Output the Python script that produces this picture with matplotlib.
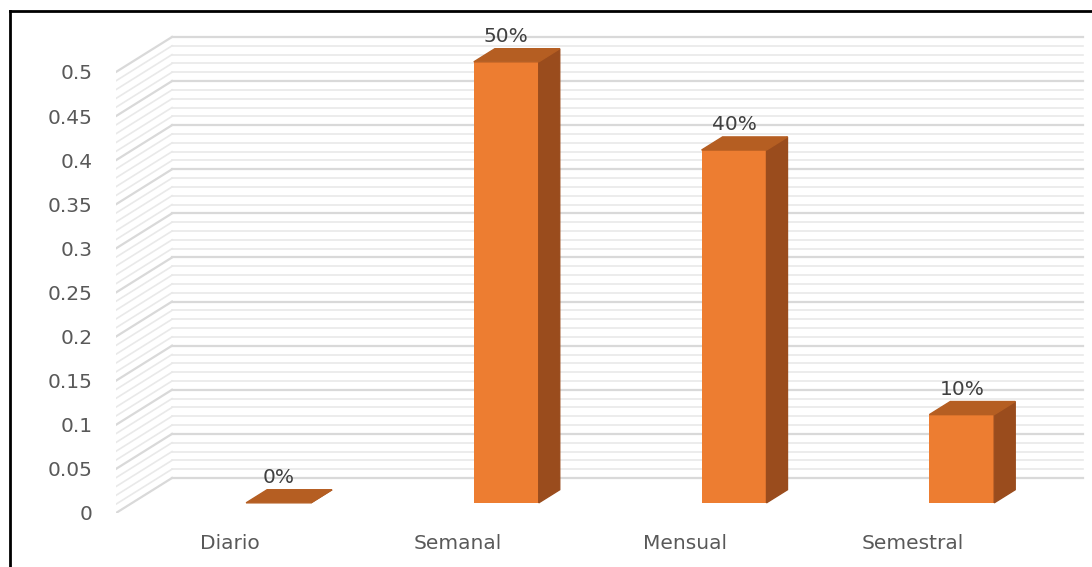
import numpy as np
import matplotlib.pyplot as plt
from matplotlib.patches import Polygon
from matplotlib.lines import Line2D

categories = ["Diario", "Semanal", "Mensual", "Semestral"]
values = [0.0, 0.5, 0.4, 0.1]
value_labels = ["0%", "50%", "40%", "10%"]
y_ticks = [0, 0.05, 0.1, 0.15, 0.2, 0.25, 0.3, 0.35, 0.4, 0.45, 0.5]
y_tick_labels = ["0", "0.05", "0.1", "0.15", "0.2", "0.25", "0.3", "0.35", "0.4", "0.45", "0.5"]

# oblique "3d" geometry (category units, value units)
DX, DY = 0.246, 0.0397
bar_w = 0.285
d_front, d_back = 0.29, 0.665
c_front, c_top, c_side = "#ED7D31", "#B55E22", "#9A4C1D"
txt = "#595959"

fig = plt.figure(figsize=(10.92, 5.67), dpi=100)
ax = fig.add_axes([116 / 1092, 54 / 567, 969 / 1092, 480.7 / 567])
ax.set_xlim(-0.5, 3.755)
ax.set_ylim(0, 0.545)
for s in ax.spines.values():
    s.set_visible(False)

# walls with gridlines
x0, x1 = -0.5, 3.5
for k in range(51):
    v = k / 100
    major = k % 5 == 0
    col = "#D9D9D9" if major else "#E9E9E9"
    lw = 1.6 if major else 1.2
    ax.plot([x0 + DX, x1 + DX], [v + DY, v + DY], color=col, lw=lw, zorder=1)
    ax.plot([x0, x0 + DX], [v, v + DY], color=col, lw=lw, zorder=1)

# bars
xs = np.arange(len(categories))
left = xs + d_front * DX
base = d_front * DY
bdx = (d_back - d_front) * DX
bdy = (d_back - d_front) * DY
ax.bar(left, values, width=bar_w, bottom=base, align="edge", color=c_front, zorder=3)
for xl, v, lab in zip(left, values, value_labels):
    xr = xl + bar_w
    top = base + v
    ax.add_patch(Polygon([(xr, base), (xr, top), (xr + bdx, top + bdy), (xr + bdx, base + bdy)],
                         closed=True, color=c_side, zorder=3))
    ax.add_patch(Polygon([(xl, top), (xr, top), (xr + bdx, top + bdy), (xl + bdx, top + bdy)],
                         closed=True, color=c_top, zorder=4))
    ax.annotate(lab, (xl + bar_w / 2, top + bdy), xytext=(0, 2), textcoords="offset points",
                ha="center", va="bottom", fontsize=14.5, color="#404040", zorder=5)

ax.set_yticks(y_ticks)
ax.set_yticklabels(y_tick_labels)
ax.set_xticks(xs)
ax.set_xticklabels(categories)
ax.tick_params(axis="y", length=0, pad=17, labelsize=14.5, labelcolor=txt)
ax.tick_params(axis="x", length=0, pad=15, labelsize=14.5, labelcolor=txt)

# outer frame of the screenshot
fig.add_artist(Line2D([10 / 1092, 1], [1 - 11 / 567, 1 - 11 / 567], color="black", lw=2))
fig.add_artist(Line2D([10 / 1092, 10 / 1092], [0, 1 - 11 / 567], color="black", lw=2))

fig.savefig("out.png", dpi=100, facecolor="white")
